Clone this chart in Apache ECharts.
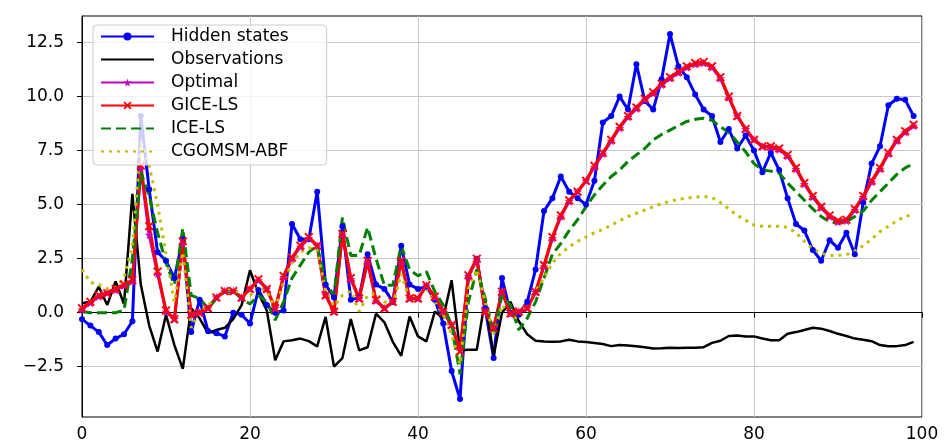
<!DOCTYPE html>
<html>
<head>
<meta charset="utf-8">
<script src="https://cdn.jsdelivr.net/npm/echarts@6/dist/echarts.min.js"></script>
<style>
  html, body { margin: 0; padding: 0; background: #fff; }
  #chart { width: 948px; height: 443px; }
</style>
</head>
<body>
<div id="chart"></div>
<script>
// values, index = time step 0..99
const hidden = [
  -0.3, -0.6, -0.9, -1.5, -1.2, -1.0, -0.4, 9.1, 5.7, 2.8,
  2.4, 1.6, 3.4, -0.9, 0.6, -0.85, -0.95, -1.1, 0.0, -0.1,
  -0.5, 1.05, 0.35, 0.0, 0.1, 4.1, 3.4, 3.4, 5.6, 1.3,
  0.7, 4.0, 0.6, 0.7, 2.7, 1.3, 1.1, 0.5, 3.1, 1.3,
  1.1, 1.2, 0.6, -0.5, -2.7, -4.0, 1.7, 2.5, 0.2, -2.1,
  1.6, 0.0, -0.1, 0.5, 2.0, 4.7, 5.3, 6.3, 5.6, 5.3,
  5.0, 6.1, 8.8, 9.1, 10.0, 9.4, 11.5, 9.8, 9.4, 10.8,
  12.9, 11.4, 10.9, 10.1, 9.4, 9.1, 7.9, 8.5, 7.6, 8.2,
  7.5, 6.5, 7.4, 6.6, 5.3, 4.1, 3.8, 2.9, 2.4, 3.35,
  3.0, 3.7, 2.7, 5.1, 6.9, 7.7, 9.6, 9.9, 9.85, 9.1
];
const observations = [
  0.43, 0.5, 1.2, 0.35, 1.45, 0.4, 5.5, 1.3, -0.6, -1.8,
  -0.1, -1.5, -2.6, 0.2, -0.26, -0.95, -0.8, -0.7, -0.3, 0.35,
  1.96, 0.9, 0.1, -2.2, -1.33, -1.28, -1.2, -1.32, -1.56, -0.2,
  -2.5, -2.1, -0.3, -1.75, -1.6, -0.05, -0.45, -1.35, -2.0, -0.18,
  -1.1, -1.33, 0.05, -0.26, 1.5, -1.75, -1.72, -1.72, 0.62, -2.0,
  0.0, 0.5, -0.4, -1.0, -1.3, -1.33, -1.35, -1.33, -1.25, -1.33,
  -1.36, -1.4, -1.45, -1.55, -1.5, -1.52, -1.56, -1.6, -1.66, -1.65,
  -1.63, -1.64, -1.63, -1.62, -1.6, -1.4, -1.3, -1.08, -1.06, -1.1,
  -1.1, -1.2, -1.28, -1.28, -0.98, -0.9, -0.8, -0.7, -0.74, -0.85,
  -0.98, -1.08, -1.2, -1.25, -1.32, -1.5, -1.56, -1.55, -1.5, -1.35
];
const optimal = [
  0.15, 0.45, 0.75, 0.9, 1.05, 1.25, 1.45, 6.7, 3.6, 1.8,
  0.05, -0.3, 3.2, -0.1, 0.0, 0.2, 0.7, 1.0, 1.0, 0.7,
  1.1, 1.5, 1.1, 0.2, 1.65, 2.5, 3.05, 3.45, 3.1, 0.8,
  0.05, 3.6, 1.55, 0.65, 2.35, 0.55, 0.2, 0.5, 2.35, 0.65,
  0.65, 1.25, 0.7, 0.05, -0.55, -1.75, 1.7, 2.45, 0.05, -0.7,
  0.95, -0.05, 0.05, 0.2, 0.95, 2.15, 3.45, 4.45, 5.15, 5.6,
  6.1, 6.75, 7.35, 7.95, 8.55, 9.05, 9.45, 9.85, 10.15, 10.55,
  10.85, 11.1, 11.35, 11.5, 11.55, 11.35, 10.85, 9.95, 9.1, 8.5,
  8.0, 7.7, 7.65, 7.55, 7.25, 6.65, 5.95, 5.35, 4.85, 4.45,
  4.2, 4.25, 4.75, 5.35, 6.05, 6.65, 7.35, 7.95, 8.35, 8.65
];
const gice = [
  0.2, 0.5, 0.8, 0.9, 1.1, 1.3, 1.5, 6.8, 4.0, 1.9,
  0.1, -0.3, 3.3, -0.1, 0.0, 0.2, 0.7, 1.0, 1.0, 0.7,
  1.1, 1.55, 1.1, 0.2, 1.7, 2.55, 3.1, 3.5, 3.1, 0.8,
  0.05, 3.65, 1.6, 0.66, 2.4, 0.58, 0.2, 0.5, 2.4, 0.66,
  0.66, 1.27, 0.74, 0.05, -0.57, -1.8, 1.73, 2.5, 0.05, -0.72,
  0.97, -0.03, 0.05, 0.2, 0.97, 2.2, 3.5, 4.5, 5.2, 5.6,
  6.1, 6.8, 7.4, 8.0, 8.6, 9.1, 9.5, 9.9, 10.2, 10.6,
  10.9, 11.15, 11.4, 11.55, 11.6, 11.4, 10.9, 10.0, 9.1, 8.5,
  8.0, 7.7, 7.7, 7.6, 7.3, 6.7, 6.0, 5.4, 4.9, 4.5,
  4.26, 4.3, 4.8, 5.4, 6.1, 6.7, 7.4, 8.0, 8.4, 8.7
];
const iceLs = [
  0.05, 0.0, 0.0, 0.0, 0.0, 0.1, 2.5, 6.5, 5.4, 3.7,
  2.3, 1.3, 3.9, 0.8, 0.65, 0.2, 0.65, 0.97, 1.0, 0.65,
  0.4, 0.8, 0.5, -0.35, 0.5, 1.6, 2.2, 2.8, 3.1, 1.4,
  0.8, 4.4, 2.65, 2.65, 3.95, 2.5, 1.27, 1.27, 3.1, 2.0,
  1.7, 1.9, 0.97, 0.35, -0.57, -2.85, 0.5, 2.0, 0.66, -1.0,
  0.8, 0.35, -0.8, -0.26, 0.5, 1.6, 2.7, 3.2, 3.8, 4.3,
  4.9, 5.45, 5.9, 6.3, 6.6, 7.0, 7.3, 7.6, 8.0, 8.25,
  8.45, 8.65, 8.85, 8.95, 9.0, 8.9, 8.6, 8.35, 7.9, 7.45,
  6.9, 6.6, 6.55, 6.45, 6.0, 5.6, 5.2, 4.8, 4.45, 4.2,
  4.15, 4.2, 4.45, 4.7, 5.2, 5.6, 6.0, 6.4, 6.7, 6.9
];
const cgomsm = [
  2.0, 1.4, 1.3, 1.1, 1.2, 1.6, 3.1, 7.9, 6.8, 5.0,
  2.7, 0.5, 2.8, -0.7, 0.05, 0.35, 0.65, 0.97, 1.1, 0.8,
  0.8, 1.2, 1.0, 0.2, 1.4, 2.3, 2.8, 3.0, 2.9, 1.0,
  0.3, 0.8, 1.0, 0.05, 0.8, 0.9, 0.5, 0.4, 1.8, 0.6,
  1.0, 1.1, 0.5, -0.1, -1.0, -2.4, 1.1, 2.0, 0.5, -1.0,
  0.35, -0.1, -0.3, 0.5, 1.0, 1.6, 2.3, 2.75, 3.05, 3.3,
  3.5, 3.7, 3.85, 4.05, 4.25, 4.45, 4.6, 4.75, 4.9, 5.05,
  5.15, 5.25, 5.3, 5.35, 5.38, 5.33, 5.1, 4.8, 4.5, 4.28,
  4.05, 4.0, 4.0, 4.0, 3.95, 3.7, 3.3, 2.95, 2.75, 2.65,
  2.65, 2.68, 2.85, 3.1, 3.4, 3.75, 4.0, 4.25, 4.45, 4.55
];
const yTicks = [-2.5, 0, 2.5, 5, 7.5, 10, 12.5];

const pairs = arr => arr.map((v, i) => [i, v]);
const fmtY = v => Number(v).toFixed(1).replace('-', '\u2212');

const starPath = 'path://M50,0 L61,35 L98,35 L68,57 L79,91 L50,70 L21,91 L32,57 L2,35 L39,35 Z';
const xPath = 'path://M15,0 L50,35 L85,0 L100,15 L65,50 L100,85 L85,100 L50,65 L15,100 L0,85 L35,50 L0,15 Z';
// no marker in the legend for the plain lines
const noMark = { opacity: 0 };

const myChart = echarts.init(document.getElementById('chart'));
const fontColor = '#000';
const option = {
    animation: false,
    backgroundColor: '#fff',
    grid: {
        left: 82,
        right: 26,
        top: 16,
        bottom: 24,
        show: true,
        borderColor: '#000',
        borderWidth: 1
    },
    legend: {
        orient: 'vertical',
        left: 93,
        top: 25,
        padding: [3, 38, 5, 7],
        itemWidth: 53,
        itemHeight: 10,
        itemGap: 6,
        backgroundColor: 'rgba(255,255,255,0.8)',
        borderColor: '#cccccc',
        borderWidth: 1,
        borderRadius: 4,
        textStyle: {
            fontFamily: 'DejaVu Sans',
            fontSize: 17,
            color: fontColor,
            padding: [0, 0, 0, 12]
        },
        data: [
            { name: 'Hidden states' },
            { name: 'Observations', itemStyle: noMark },
            { name: 'Optimal' },
            { name: 'GICE-LS' },
            { name: 'ICE-LS', itemStyle: noMark },
            { name: 'CGOMSM-ABF', itemStyle: noMark }
        ]
    },
    xAxis: {
        type: 'value',
        min: 0,
        max: 100,
        interval: 20,
        axisLine: { show: true, lineStyle: { color: fontColor, width: 1 } },
        axisTick: { show: true, length: 5, lineStyle: { color: fontColor } },
        axisLabel: { color: fontColor, fontFamily: 'DejaVu Sans', fontSize: 17, margin: 9 },
        splitLine: { show: true, lineStyle: { color: '#c8c8c8', width: 1 } }
    },
    yAxis: {
        type: 'value',
        min: -4.83,
        max: 13.73,
        axisLine: { show: true, lineStyle: { color: fontColor, width: 1 } },
        axisTick: { show: true, length: 5, customValues: yTicks, lineStyle: { color: fontColor } },
        axisLabel: {
            color: fontColor, fontFamily: 'DejaVu Sans', fontSize: 17, margin: 18,
            customValues: yTicks,
            formatter: fmtY
        },
        splitLine: { show: true, lineStyle: { color: '#c8c8c8', width: 1 } }
    },
    series: [
        {
            name: 'Hidden states',
            type: 'line',
            data: pairs(hidden),
            symbol: 'circle',
            symbolSize: 6,
            showAllSymbol: true,
            itemStyle: { color: '#0000ff' },
            lineStyle: { color: '#0000ff', width: 3 }
        },
        {
            name: 'Observations',
            type: 'line',
            data: pairs(observations),
            symbol: 'none',
            itemStyle: { color: '#000000' },
            lineStyle: { color: '#000000', width: 2.5 }
        },
        {
            name: 'Optimal',
            type: 'line',
            data: pairs(optimal),
            symbol: starPath,
            symbolSize: 9,
            showAllSymbol: true,
            itemStyle: { color: '#bf00bf' },
            lineStyle: { color: '#bf00bf', width: 3 }
        },
        {
            name: 'GICE-LS',
            type: 'line',
            data: pairs(gice),
            symbol: xPath,
            symbolSize: 9,
            showAllSymbol: true,
            itemStyle: { color: '#ff0000' },
            lineStyle: { color: '#ff0000', width: 3 }
        },
        {
            name: 'ICE-LS',
            type: 'line',
            data: pairs(iceLs),
            symbol: 'none',
            itemStyle: { color: '#008000' },
            lineStyle: { color: '#008000', width: 3, type: [10, 5] }
        },
        {
            name: 'CGOMSM-ABF',
            type: 'line',
            data: pairs(cgomsm),
            symbol: 'none',
            itemStyle: { color: '#bfbf00' },
            lineStyle: { color: '#bfbf00', width: 3, type: [3, 5] }
        }
    ]
};
myChart.setOption(option);
</script>
</body>
</html>
